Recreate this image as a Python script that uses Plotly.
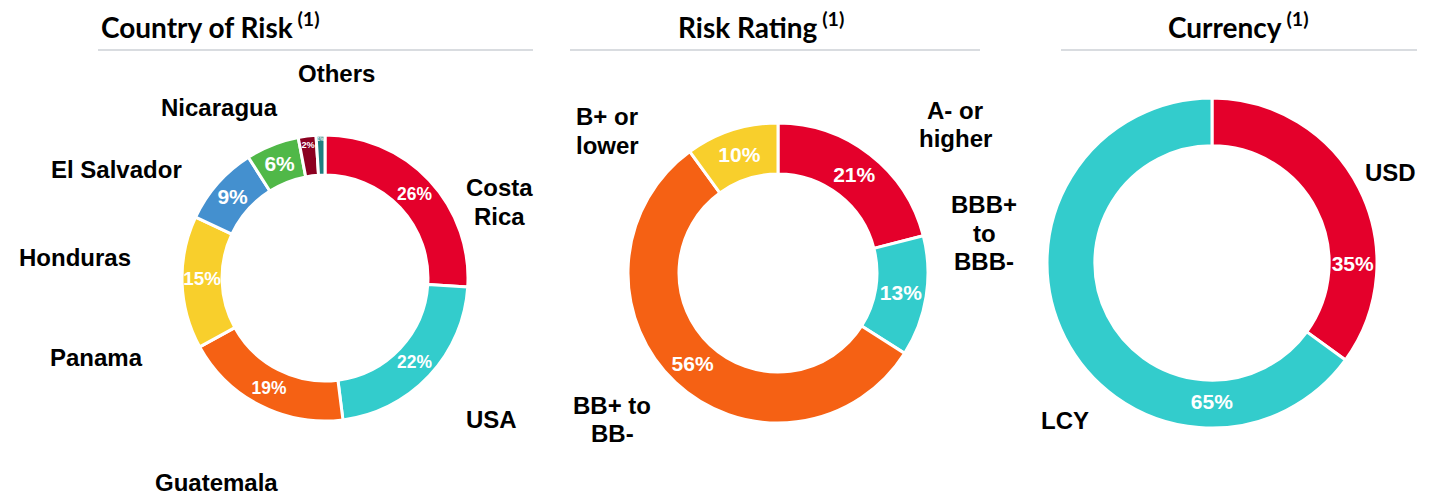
import plotly.graph_objects as go

# page body adds an 8px margin, so the figure is drawn a bit smaller and offset
W, H = 1418, 487
OFF = 8

# data
country_labels = ["Costa Rica", "USA", "Guatemala", "Panama", "Honduras", "El Salvador", "Nicaragua", "Others"]
country_values = [26, 22, 19, 15, 9, 6, 2, 1]
country_colors = ["#E4002B", "#33CCCC", "#F56114", "#F8CF2C", "#4490CF", "#50B848", "#8B0020", "#1F7F7F"]

rating_labels = ["A- or higher", "BBB+ to BBB-", "BB+ to BB-", "B+ or lower"]
rating_values = [21, 13, 56, 10]
rating_colors = ["#E4002B", "#33CCCC", "#F56114", "#F8CF2C"]

currency_labels = ["USD", "LCY"]
currency_values = [35, 65]
currency_colors = ["#E4002B", "#33CCCC"]


def px_x(x):
    return (x - OFF) / W


def px_y(y):
    return 1 - (y - OFF) / H


def donut(labels, values, colors, box, hole):
    x0, y0, x1, y1 = box
    return go.Pie(
        labels=labels, values=values, sort=False, direction="clockwise", rotation=0,
        hole=hole, marker=dict(colors=colors, line=dict(color="white", width=3)),
        texttemplate="<b>%{percent:.0%}</b>", textposition="inside",
        insidetextorientation="horizontal",
        textfont=dict(family="Liberation Sans, Arial", size=21, color="white"),
        domain=dict(x=[px_x(x0), px_x(x1)], y=[px_y(y1), px_y(y0)]),
        showlegend=False, hoverinfo="label+percent",
    )


fig = go.Figure()
fig.add_trace(donut(country_labels, country_values, country_colors, (182, 135, 468, 421), 0.72))
fig.add_trace(donut(rating_labels, rating_values, rating_colors, (628, 123, 928, 423), 0.66))
fig.add_trace(donut(currency_labels, currency_values, currency_colors, (1047, 98, 1377, 428), 0.71))

annots = []
title_font = dict(family="Lato, Open Sans", size=28, color="black")
for txt, x, anchor in [("<b>Country of Risk</b><sup><b> (1)</b></sup>", 99, "left"),
                       ("<b>Risk Rating</b><sup><b> (1)</b></sup>", 761, "center"),
                       ("<b>Currency</b><sup><b> (1)</b></sup>", 1238, "center")]:
    annots.append(dict(text=txt, x=px_x(x), y=px_y(26), xref="paper", yref="paper",
                       xanchor=anchor, yanchor="middle", showarrow=False, font=title_font))

lab_font = dict(family="Liberation Sans, Arial", size=24, color="black")
labels_pos = [
    ("Others", 336, 73), ("Nicaragua", 219, 108), ("El Salvador", 116, 170),
    ("Honduras", 75, 258), ("Panama", 96, 357), ("Guatemala", 216, 482),
    ("Costa|Rica", 499, 188), ("USA", 491, 419),
    ("B+ or|lower", 607, 117), ("A- or|higher", 955, 110),
    ("BBB+|to|BBB-", 984, 205), ("BB+ to|BB-", 612, 405),
    ("USD", 1390, 172), ("LCY", 1065, 420),
]
for txt, x, y in labels_pos:
    for i, line in enumerate(txt.split("|")):
        annots.append(dict(text="<b>" + line + "</b>", x=px_x(x), y=px_y(y + 28 * i),
                           xref="paper", yref="paper", xanchor="center", yanchor="middle",
                           showarrow=False, font=lab_font))

shapes = []
for xa, xb in [(98, 533), (570, 980), (1061, 1417)]:
    shapes.append(dict(type="line", xref="paper", yref="paper", x0=px_x(xa), x1=px_x(xb),
                       y0=px_y(50), y1=px_y(50), line=dict(color="#D9DCE0", width=2)))

fig.update_layout(width=W, height=H, margin=dict(l=0, r=0, t=0, b=0),
                  paper_bgcolor="white", plot_bgcolor="white",
                  annotations=annots, shapes=shapes)

fig.write_html("out.html")
